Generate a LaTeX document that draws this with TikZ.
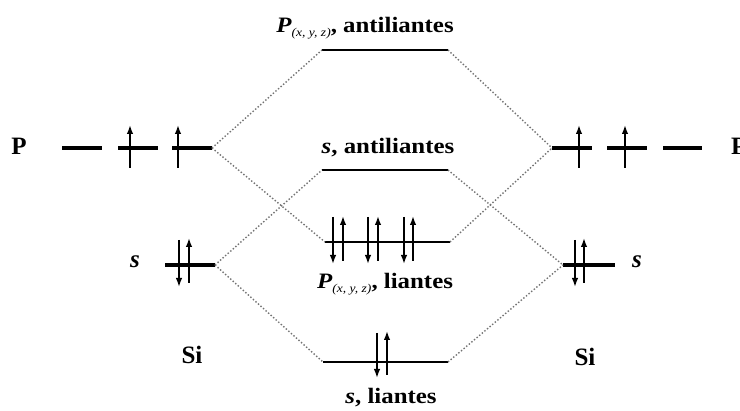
\documentclass[tikz,border=0pt]{standalone}
\usepackage{fontspec}
\setmainfont{Liberation Serif}[FakeStretch=1.13]
\newfontfamily\plainserif{Liberation Serif}
\usetikzlibrary{arrows.meta}
\newcommand\Pxyz{\textit{P}\raisebox{-4pt}{\fontsize{12}{12}\selectfont\mdseries\itshape(x, y, z)}}
\begin{document}
\begin{tikzpicture}[x=1pt,y=-1pt,
  lvl/.style={line width=3.6pt},
  molvl/.style={line width=2.6pt},
  spin/.style={line width=1.6pt,-{Latex[length=9pt,width=6.5pt]}},
  conn/.style={black!55,dotted,line width=1.4pt},
  lbl/.style={font=\fontsize{22}{24}\selectfont\bfseries,inner sep=0pt},
  atom/.style={font=\plainserif\fontsize{25}{27}\selectfont\bfseries,inner sep=0pt}]
\useasboundingbox[fill=white] (0,0) rectangle (740,411);
% atomic levels, left
\draw[lvl] (62,148) -- (102,148);
\draw[lvl] (118,148) -- (158,148);
\draw[lvl] (172,148) coordinate (pLa) -- (212,148) coordinate (pL);
\draw[spin] (130,168) -- (130,125);
\draw[spin] (178,168) -- (178,125);
\draw[lvl] (165,265) -- (215,265) coordinate (sL);
\draw[spin] (179,240) -- (179,287);
\draw[spin] (189,283) -- (189,238);
% atomic levels, right
\draw[lvl] (552,148) coordinate (pR) -- (592,148);
\draw[lvl] (607,148) -- (647,148);
\draw[lvl] (663,148) -- (702,148);
\draw[spin] (579,168) -- (579,125);
\draw[spin] (625,168) -- (625,125);
\draw[lvl] (563,265) coordinate (sR) -- (615,265);
\draw[spin] (575,240) -- (575,287);
\draw[spin] (584,283) -- (584,238);
% molecular levels
\draw[molvl] (322,50) coordinate (paL) -- (448,50) coordinate (paR);
\draw[molvl] (322,170) coordinate (saL) -- (448,170) coordinate (saR);
\draw[molvl] (325,242) coordinate (pbL) -- (450,242) coordinate (pbR);
\draw[molvl] (323,362) coordinate (sbL) -- (448,362) coordinate (sbR);
\foreach \x in {333,368,404}{\draw[spin] (\x,217) -- (\x,264);}
\foreach \x in {343,378,413}{\draw[spin] (\x,261) -- (\x,216);}
\draw[spin] (377,333) -- (377,378);
\draw[spin] (387,375) -- (387,331);
% connectors
\draw[conn] (pL) -- (paL);
\draw[conn] (pL) -- (pbL);
\draw[conn] (sL) -- (saL);
\draw[conn] (sL) -- (sbL);
\draw[conn] (paR) -- (pR);
\draw[conn] (pbR) -- (pR);
\draw[conn] (saR) -- (sR);
\draw[conn] (sbR) -- (sR);
% labels
\node[atom] (lp) at (19,146) {P};
\node[atom,anchor=west] (rp) at (731,146) {P};
\node[atom] (ls) at (135,262) {\textit{s}};
\node[atom] (rs) at (637,262) {\textit{s}};
\node[atom] (siL) at (192,355) {Si};
\node[atom] (siR) at (585,357) {Si};
\node[lbl] (tpa) at (365,28) {\Pxyz, antiliantes};
\node[lbl] (tsa) at (388,148) {\textit{s}, antiliantes};
\node[lbl] (tpb) at (385,284) {\Pxyz, liantes};
\node[lbl] (tsb) at (391,398) {\textit{s}, liantes};
\end{tikzpicture}
\end{document}
